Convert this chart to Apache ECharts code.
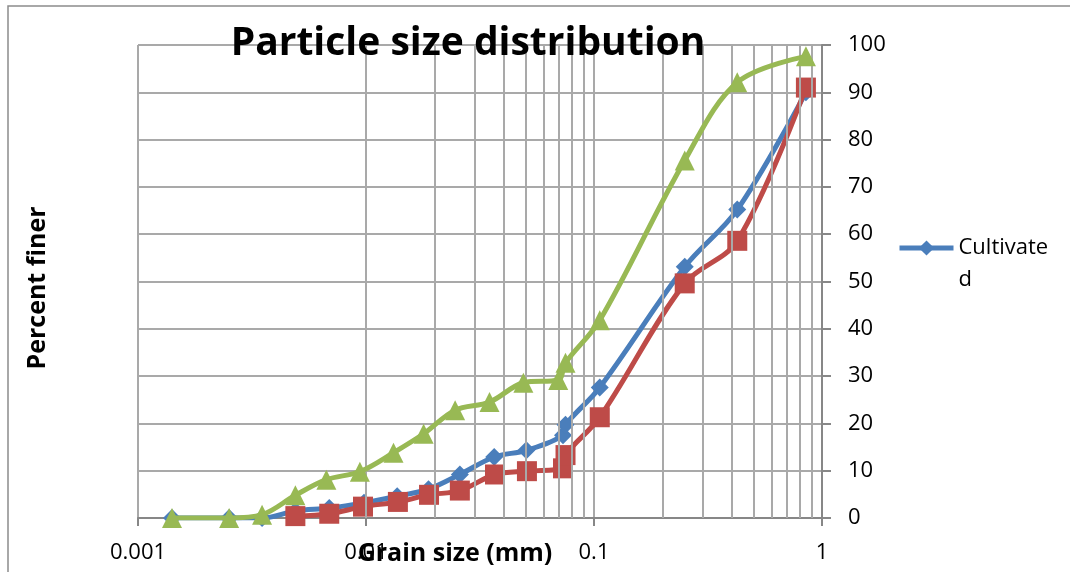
<!DOCTYPE html>
<html>
<head>
<meta charset="utf-8">
<script src="https://cdn.jsdelivr.net/npm/echarts@6/dist/echarts.min.js"></script>
<style>
  html, body { margin: 0; padding: 0; background: #ffffff; }
  #chart { width: 1070px; height: 572px; }
</style>
</head>
<body>
<div id="chart"></div>
<script>
// Grain size (mm) and percent finer for each sample
const cultivatedSize = [0.00141, 0.00251, 0.0035, 0.0049, 0.0069, 0.0098, 0.0137, 0.0188, 0.0258, 0.0365, 0.0505, 0.0731, 0.075, 0.106, 0.25, 0.425, 0.85];
const cultivatedFiner = [0, 0, 0, 1.5, 2.1, 3.2, 4.6, 6.1, 9.2, 12.9, 14.3, 17.5, 19.7, 27.6, 53.1, 65.2, 90.0];

const series2Size = [0.0049, 0.0069, 0.0097, 0.0138, 0.0189, 0.0258, 0.0368, 0.0508, 0.0731, 0.075, 0.106, 0.25, 0.425, 0.85];
const series2Finer = [0.4, 0.9, 2.4, 3.4, 4.9, 5.8, 9.2, 9.9, 10.5, 13.3, 21.3, 49.6, 58.6, 91.0];

const series3Size = [0.00141, 0.00251, 0.0035, 0.0049, 0.0067, 0.0094, 0.0132, 0.0179, 0.0246, 0.0348, 0.049, 0.0697, 0.075, 0.106, 0.25, 0.425, 0.85];
const series3Finer = [0, 0, 0.7, 4.8, 8.1, 9.8, 13.8, 17.8, 22.8, 24.5, 28.6, 29.2, 32.8, 41.8, 75.6, 92.1, 97.6];

// Axis ticks
const xTickLabels = ['0.001', '0.01', '0.1', '1'];
const decades = [0.001, 0.01, 0.1];
const minorSteps = [2, 3, 4, 5, 6, 7, 8, 9];

const pairs = (xs, ys) => xs.map((x, i) => [x, ys[i]]);

// Intermediate log gridlines at 2..9 of every decade
const minorLines = [];
decades.forEach(d => minorSteps.forEach(k => minorLines.push({ xAxis: +(d * k).toPrecision(3) })));

const FONT = '"Open Sans", "Noto Sans", sans-serif';
const gridGray = '#a9a9a9';
const axisGray = '#878787';

const chart = echarts.init(document.getElementById('chart'), null, { renderer: 'canvas' });

chart.setOption({
  animation: false,
  backgroundColor: '#ffffff',
  grid: { left: 138, right: 248, top: 45, bottom: 54, containLabel: false },
  legend: {
    data: ['Cultivated'],
    left: 897,
    top: 200,
    padding: 0,
    itemWidth: 54,
    itemHeight: 19,
    itemGap: 4,
    lineStyle: { width: 5 },
    // the label wraps onto a second line, first line level with the key
    formatter: () => '\nCultivate\nd',
    textStyle: { fontFamily: FONT, fontSize: 22, color: '#000', lineHeight: 32 }
  },
  xAxis: {
    type: 'log',
    logBase: 10,
    min: 0.001,
    max: 1,
    axisLine: { show: true, lineStyle: { color: axisGray, width: 2 } },
    axisTick: { show: true, length: 8, lineStyle: { color: axisGray, width: 2 } },
    splitLine: { show: true, lineStyle: { color: gridGray, width: 2 } },
    axisLabel: {
      margin: 24,
      fontFamily: FONT,
      fontSize: 22,
      color: '#000',
      formatter: v => {
        const s = xTickLabels.find(t => Math.abs(parseFloat(t) - v) / v < 1e-6);
        return s || '';
      }
    }
  },
  yAxis: {
    type: 'value',
    position: 'right',
    min: 0,
    max: 100,
    interval: 10,
    axisLine: { show: true, lineStyle: { color: axisGray, width: 2 } },
    axisTick: { show: true, inside: false, length: 9, lineStyle: { color: axisGray, width: 2 } },
    splitLine: { show: true, lineStyle: { color: gridGray, width: 2 } },
    axisLabel: { margin: 26, fontFamily: FONT, fontSize: 22, color: '#000' }
  },
  graphic: [
    {
      type: 'rect',
      shape: { x: 8, y: 6, width: 1100, height: 600 },
      style: { fill: 'none', stroke: '#8c8c8c', lineWidth: 1.5 },
      silent: true,
      z: -10
    },
    {
      type: 'text',
      x: 468,
      y: 44,
      style: {
        text: 'Particle size distribution',
        fontFamily: FONT,
        fontWeight: 'bold',
        fontSize: 39,
        fill: '#000',
        align: 'center',
        verticalAlign: 'middle'
      },
      z: 100
    },
    {
      type: 'text',
      x: 38,
      y: 288,
      rotation: Math.PI / 2,
      style: {
        text: 'Percent finer',
        fontFamily: FONT,
        fontWeight: 'bold',
        fontSize: 25,
        fill: '#000',
        align: 'center',
        verticalAlign: 'middle'
      },
      z: 100
    },
    {
      type: 'text',
      x: 455,
      y: 554,
      style: {
        text: 'Grain size (mm)',
        fontFamily: FONT,
        fontWeight: 'bold',
        fontSize: 25,
        fill: '#000',
        align: 'center',
        verticalAlign: 'middle'
      },
      z: 100
    }
  ],
  series: [
    {
      // minor gridlines drawn through the x scale
      type: 'line',
      data: [],
      silent: true,
      z: 1,
      markLine: {
        silent: true,
        symbol: 'none',
        label: { show: false },
        lineStyle: { color: gridGray, width: 2, type: 'solid' },
        data: minorLines,
        animation: false
      }
    },
    {
      name: 'Cultivated',
      type: 'line',
      data: pairs(cultivatedSize, cultivatedFiner),
      smooth: 0.35,
      symbol: 'diamond',
      symbolSize: 18,
      lineStyle: { color: '#4A7EBB', width: 5 },
      itemStyle: { color: '#4A7EBB' },
      z: 3
    },
    {
      name: 'Series 2',
      type: 'line',
      data: pairs(series2Size, series2Finer),
      smooth: 0.35,
      symbol: 'rect',
      symbolSize: 20,
      lineStyle: { color: '#BE4B48', width: 5 },
      itemStyle: { color: '#BE4B48' },
      z: 4
    },
    {
      name: 'Series 3',
      type: 'line',
      data: pairs(series3Size, series3Finer),
      smooth: 0.35,
      symbol: 'triangle',
      symbolSize: 20,
      lineStyle: { color: '#98B954', width: 5 },
      itemStyle: { color: '#98B954' },
      z: 5
    }
  ]
});
</script>
</body>
</html>
